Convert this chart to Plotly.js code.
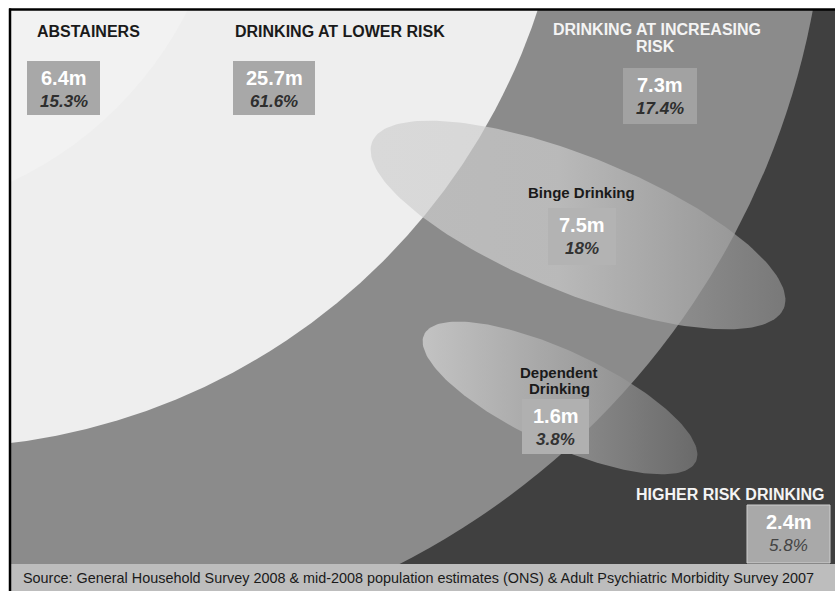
<!DOCTYPE html>
<html><head><meta charset="utf-8">
<script src="https://cdn.plot.ly/plotly-3.0.1.min.js"></script>
<style>html,body{margin:0;padding:0;background:#fff;}#chart{width:835px;height:591px;}</style>
</head><body><div id="chart"></div>
<script>
// ---- data ----
const groupLabels = ['ABSTAINERS', 'DRINKING AT LOWER RISK', 'DRINKING AT INCREASING RISK', 'Binge Drinking', 'Dependent Drinking', 'HIGHER RISK DRINKING'];
const adultsMillions = [6.4, 25.7, 7.3, 7.5, 1.6, 2.4];
const sharePercent = [15.3, 61.6, 17.4, 18, 3.8, 5.8];
const sourceNote = 'Source: General Household Survey 2008 & mid-2008 population estimates (ONS) & Adult Psychiatric Morbidity Survey 2007';

// ---- layout of the diagram (positions / styles, pixel space) ----
const FONT = 'Liberation Sans, Arial, sans-serif';
const labelSpec = [
  {split: 1, lx: [88], ly: [31], lcol: '#1a1a1a', box: [27, 61, 100, 115], bcol: '#a8a8a8', pcol: '#2e2e2e', pw: 'bold'},
  {split: 4, lx: [340], ly: [31], lcol: '#1a1a1a', box: [233, 61, 315, 115], bcol: '#a8a8a8', pcol: '#2e2e2e', pw: 'bold'},
  {split: 3, lx: [657, 655], ly: [29, 46], lcol: '#f4f4f4', box: [623, 68, 697, 124], bcol: '#a2a2a2', pcol: '#2e2e2e', pw: 'bold'},
  {split: 2, lx: [581], ly: [192], lcol: '#1a1a1a', box: [548, 208, 616, 265], bcol: '#b3b3b3', pcol: '#333333', pw: 'bold'},
  {split: 1, lx: [559, 559], ly: [372, 388], lcol: '#1a1a1a', box: [522, 399, 589, 454], bcol: '#b0b0b0', pcol: '#333333', pw: 'bold'},
  {split: 3, lx: [730], ly: [494], lcol: '#f4f4f4', box: [747, 505, 830, 563], bcol: '#a9a9a9', pcol: '#444444', pw: 'normal', border: '#cfcfcf'}
];

function circle(cx, cy, r, col) {
  return {type: 'circle', xref: 'x', yref: 'y', x0: cx - r, x1: cx + r, y0: cy - r, y1: cy + r,
          fillcolor: col, line: {width: 0}, layer: 'below'};
}
function ellipse(cx, cy, a, b, deg) {
  const th = deg * Math.PI / 180, xs = [], ys = [];
  for (let i = 0; i <= 180; i++) {
    const t = i / 180 * 2 * Math.PI;
    xs.push(cx + a * Math.cos(t) * Math.cos(th) - b * Math.sin(t) * Math.sin(th));
    ys.push(cy + a * Math.cos(t) * Math.sin(th) + b * Math.sin(t) * Math.cos(th));
  }
  return {xs, ys};
}

const shapes = [
  circle(43, -133, 783, '#8b8b8b'),
  circle(-68, -190, 638, '#eeeeee'),
  circle(-150, -160, 378, '#f2f2f2')
];
const annotations = [];

labelSpec.forEach((s, i) => {
  const words = groupLabels[i].split(' ');
  const lines = s.lx.length > 1 ? [words.slice(0, s.split).join(' '), words.slice(s.split).join(' ')] : [groupLabels[i]];
  const isHeader = i < 3 || i === 5;
  lines.forEach((ln, k) => annotations.push({
    x: s.lx[k], y: s.ly[k], xref: 'x', yref: 'y', text: ln, showarrow: false,
    xanchor: 'center', yanchor: 'middle',
    font: {family: FONT, size: isHeader ? 16 : 15, color: s.lcol, weight: 'bold'}
  }));
  const [x0, y0, x1, y1] = s.box;
  shapes.push({type: 'rect', xref: 'x', yref: 'y', x0, y0, x1, y1, fillcolor: s.bcol,
               line: {width: s.border ? 1 : 0, color: s.border || s.bcol}, layer: 'above'});
  const cx = (x0 + x1) / 2;
  annotations.push({x: cx, y: y0 + 17, xref: 'x', yref: 'y', text: adultsMillions[i] + 'm', showarrow: false,
    xanchor: 'center', yanchor: 'middle', font: {family: FONT, size: 20, color: '#ffffff', weight: 'bold'}});
  annotations.push({x: cx, y: y0 + 40, xref: 'x', yref: 'y', text: sharePercent[i] + '%', showarrow: false,
    xanchor: 'center', yanchor: 'middle', font: {family: FONT, size: 17, color: s.pcol, weight: s.pw, style: 'italic'}});
});

// frame & source bar
shapes.push({type: 'rect', xref: 'x', yref: 'y', x0: 0, x1: 835, y0: 0, y1: 9, fillcolor: '#ffffff', line: {width: 0}, layer: 'above'});
shapes.push({type: 'rect', xref: 'x', yref: 'y', x0: 0, x1: 10, y0: 0, y1: 591, fillcolor: '#ffffff', line: {width: 0}, layer: 'above'});
shapes.push({type: 'rect', xref: 'x', yref: 'y', x0: 10, x1: 835, y0: 564, y1: 591, fillcolor: '#bdbdbd', line: {width: 0}, layer: 'above'});
shapes.push({type: 'line', xref: 'x', yref: 'y', x0: 9, x1: 835, y0: 9.5, y1: 9.5, line: {width: 2.5, color: '#000'}, layer: 'above'});
shapes.push({type: 'line', xref: 'x', yref: 'y', x0: 10, x1: 10, y0: 8.5, y1: 591, line: {width: 2.5, color: '#000'}, layer: 'above'});
annotations.push({x: 418, y: 578, xref: 'x', yref: 'y', text: sourceNote, showarrow: false,
  xanchor: 'center', yanchor: 'middle', font: {family: FONT, size: 14.4, color: '#1a1a1a'}});

const binge = ellipse(578, 225, 222, 68, 22);
const dep = ellipse(560, 398, 150, 47, 25);
const traces = [
  {x: binge.xs, y: binge.ys, type: 'scatter', mode: 'lines', fill: 'toself', opacity: 0.7,
   line: {width: 0, color: 'rgba(0,0,0,0)'}, hoverinfo: 'skip',
   fillgradient: {type: 'horizontal', colorscale: [[0, 'rgb(208,208,208)'], [0.45, 'rgb(205,205,205)'], [1, 'rgb(145,145,145)']]}},
  {x: dep.xs, y: dep.ys, type: 'scatter', mode: 'lines', fill: 'toself', opacity: 0.7,
   line: {width: 0, color: 'rgba(0,0,0,0)'}, hoverinfo: 'skip',
   fillgradient: {type: 'horizontal', colorscale: [[0, 'rgb(218,218,218)'], [0.6, 'rgb(165,165,165)'], [1, 'rgb(124,124,124)']]}}
];

const layout = {
  width: 835, height: 591, margin: {l: 0, r: 0, t: 0, b: 0},
  paper_bgcolor: '#ffffff', plot_bgcolor: '#404040', showlegend: false,
  xaxis: {range: [0, 835], visible: false, fixedrange: true},
  yaxis: {range: [591, 0], visible: false, fixedrange: true},
  shapes, annotations
};
Plotly.newPlot('chart', traces, layout, {displayModeBar: false, staticPlot: true});
</script></body></html>
